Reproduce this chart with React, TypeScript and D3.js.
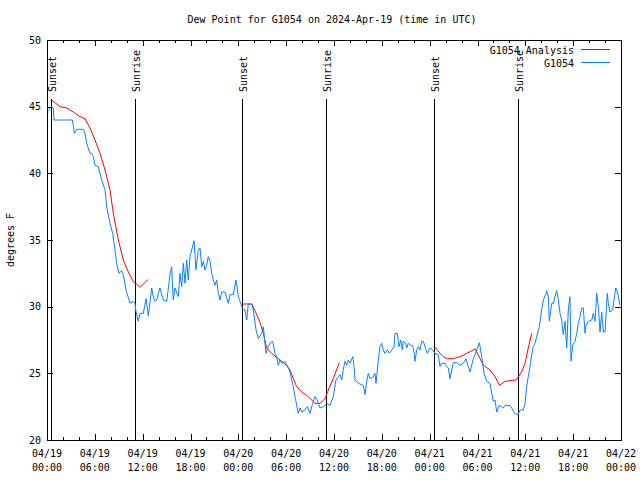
import React from "react";
import * as d3 from "d3";

// ---- Data (hours after 2024-04-19 00:00 UTC, dew point in °F) ----
const obsHours = [
  0.16, 0.59, 0.79, 0.88, 3.17, 3.3, 3.42, 3.73, 4.55, 4.77, 4.98, 5.39, 5.61, 5.81, 6.02, 6.43, 6.86, 7.28, 7.49, 7.9,
  8.24, 8.53, 8.74, 9.03, 9.37, 9.57, 9.91, 10.41, 10.83, 11.04, 11.13, 11.45, 11.67, 12.08, 12.42, 12.63, 12.71, 13.13, 13.33, 13.55,
  13.76, 14.17, 14.59, 15.02, 15.43, 15.64, 15.84, 16.06, 16.47, 16.68, 16.9, 17.1, 17.31, 17.52, 17.72, 17.94, 18.15, 18.44, 18.69, 18.98,
  19.19, 19.41, 19.61, 19.82, 20.03, 20.23, 20.45, 20.66, 20.86, 21.07, 21.29, 21.49, 21.7, 21.91, 22.33, 22.74, 22.96, 23.37, 23.71, 24.0,
  24.21, 24.5, 24.84, 25.05, 25.25, 25.68, 25.88, 26.22, 26.51, 26.93, 27.13, 27.47, 27.76, 27.97, 28.31, 28.6, 28.81, 29.01, 29.23, 29.44,
  29.85, 30.27, 30.48, 30.7, 30.9, 31.11, 31.32, 31.52, 31.74, 31.95, 32.36, 32.65, 32.99, 33.2, 33.62, 33.91, 34.24, 34.66, 35.09, 35.5,
  35.91, 36.25, 36.54, 36.75, 36.97, 37.17, 37.38, 37.59, 37.8, 38.01, 38.35, 38.51, 38.64, 39.05, 39.68, 39.89, 40.1, 40.3, 40.52, 40.93,
  41.14, 41.27, 41.56, 41.77, 41.98, 42.19, 42.4, 42.69, 42.94, 43.24, 43.53, 43.65, 43.94, 44.15, 44.37, 44.57, 44.69, 44.99, 45.12, 45.32,
  45.62, 45.87, 46.04, 46.16, 46.37, 46.57, 46.79, 47.0, 47.2, 47.42, 47.7, 48.04, 48.38, 48.67, 49.08, 49.3, 49.51, 49.92, 50.14, 50.34,
  50.55, 50.76, 50.97, 51.39, 51.81, 52.22, 52.56, 52.85, 53.06, 53.48, 53.9, 54.23, 54.53, 54.82, 55.16, 55.57, 55.78, 55.98, 56.2, 56.41,
  56.73, 57.03, 57.24, 57.45, 58.08, 58.29, 58.7, 59.12, 59.33, 59.74, 59.96, 60.17, 60.37, 60.59, 60.8, 61.0, 61.21, 61.43, 61.75, 62.05,
  62.26, 62.59, 62.68, 62.88, 63.01, 63.31, 63.51, 63.72, 63.93, 64.14, 64.35, 64.56, 64.76, 64.98, 65.19, 65.39, 65.6, 65.73, 65.94, 66.23,
  66.44, 66.65, 66.86, 67.07, 67.27, 67.49, 67.61, 67.9, 68.33, 68.53, 68.74, 68.95, 69.16, 69.37, 69.58, 69.78, 69.99, 70.28, 70.41, 70.62,
  70.96, 71.12, 71.34, 71.54, 71.75, 71.87,
];
const obsDew = [
  44.7, 45.0, 44.9, 44.0, 44.0, 43.6, 43.0, 43.3, 43.3, 43.0, 42.25, 41.5, 41.5, 41.25, 40.6, 40.5, 39.5, 38.75, 37.5, 36.25,
  35.5, 34.25, 33.25, 32.5, 32.7, 32.4, 31.25, 30.25, 30.4, 30.25, 29.75, 28.9, 29.5, 29.5, 30.6, 29.75, 29.3, 31.4, 30.75, 30.4,
  30.5, 31.4, 30.5, 30.4, 32.4, 33.0, 30.5, 31.4, 30.75, 32.5, 31.5, 33.25, 31.75, 33.5, 32.0, 33.75, 34.25, 34.95, 32.75, 34.25,
  34.4, 33.0, 33.4, 32.75, 33.1, 33.75, 33.4, 32.5, 32.0, 31.6, 32.0, 31.0, 30.5, 31.1, 31.1, 30.25, 30.9, 30.9, 32.0, 30.75,
  30.4, 29.9, 29.75, 29.0, 30.2, 30.2, 29.75, 28.25, 27.6, 28.0, 28.5, 26.5, 27.0, 27.25, 27.4, 26.5, 26.25, 25.6, 26.0, 25.75,
  25.9, 25.4, 25.1, 24.5, 24.0, 23.25, 22.6, 22.0, 22.4, 22.1, 22.25, 22.5, 22.0, 22.5, 23.25, 23.0, 22.4, 22.5, 22.75, 22.6,
  23.25, 24.5, 24.75, 24.9, 24.5, 25.3, 25.9, 25.6, 26.0, 25.75, 26.25, 25.5, 24.5, 24.25, 24.1, 23.4, 24.4, 25.0, 24.6, 24.75,
  25.0, 24.25, 26.0, 27.0, 27.25, 26.75, 26.5, 26.75, 26.5, 26.75, 27.0, 28.0, 28.0, 27.0, 27.5, 26.75, 27.4, 27.25, 26.9, 27.25,
  27.1, 27.1, 26.6, 25.9, 26.75, 27.0, 26.75, 27.4, 27.4, 27.0, 26.5, 26.9, 26.75, 26.5, 26.4, 25.5, 25.75, 25.75, 25.5, 25.4,
  24.6, 25.25, 25.8, 25.8, 25.6, 25.75, 26.1, 25.5, 25.1, 26.1, 26.75, 27.3, 26.25, 25.0, 24.4, 24.25, 23.5, 22.9, 23.0, 22.1,
  22.6, 22.5, 22.4, 22.6, 22.6, 22.4, 21.95, 21.95, 22.25, 22.25, 22.75, 24.0, 24.75, 25.5, 26.4, 27.0, 27.25, 27.75, 28.5, 29.75,
  30.5, 30.95, 31.2, 30.75, 28.9, 30.25, 30.25, 30.75, 31.2, 30.5, 29.5, 29.0, 27.9, 28.9, 26.9, 29.75, 30.75, 25.9, 27.1, 27.4,
  28.0, 28.75, 29.25, 29.9, 29.9, 28.0, 28.6, 28.9, 29.0, 29.5, 28.9, 31.0, 30.0, 28.1, 29.6, 28.1, 28.1, 31.0, 30.25, 29.6,
  29.75, 30.5, 31.4, 31.1, 30.5, 30.1,
];

// Analysis: three segments, separated by nulls
const analysisHours = [
  0.59, 1.63, 2.47, 3.3, 4.14, 4.77, 5.39, 6.02, 6.65, 7.28, 7.9, 8.32, 8.95, 9.57, 10.2, 10.83, 11.25, 11.67, 12.71, null,
  24.55, 25.68, 26.09, 26.72, 27.13, 27.55, 28.18, 29.23, 30.06, 30.48, 30.9, 31.32, 31.95, 32.78, 33.62, 34.24, 34.87, 35.29, 35.91, 36.66, null,
  48.62, 49.3, 49.71, 50.14, 50.97, 51.81, 52.64, 53.48, 53.69, 54.32, 54.74, 55.57, 56.2, 56.77, 57.45, 58.08, 58.83, 59.12, 59.54, 59.96, 60.37, 60.8,
];
const analysisDew = [
  45.5, 45.0, 44.9, 44.6, 44.25, 44.1, 43.4, 42.5, 41.5, 40.25, 38.75, 37.0, 35.0, 33.5, 32.6, 31.9, 31.7, 31.45, 32.05, null,
  30.2, 30.2, 29.7, 28.8, 28.0, 26.9, 26.5, 26.0, 25.6, 25.25, 24.6, 24.0, 23.6, 23.25, 22.75, 22.75, 23.1, 23.75, 24.6, 25.8, null,
  27.0, 26.5, 26.25, 26.1, 26.1, 26.25, 26.5, 26.75, 26.85, 26.1, 25.6, 25.25, 24.75, 24.1, 24.4, 24.45, 24.5, 24.75, 25.1, 25.75, 26.9, 28.0,
];

const sunEventHours = [0.58, 11.12, 24.55, 35.12, 48.55, 59.12];
const sunEventLabels = ["Sunset", "Sunrise", "Sunset", "Sunrise", "Sunset", "Sunrise"];

const yTicks = [20, 25, 30, 35, 40, 45, 50];
const seriesNames = ["G1054 Analysis", "G1054"];
const seriesColors = ["#ff0000", "#0a80ff"];
const titleText = "Dew Point for G1054 on 2024-Apr-19 (time in UTC)";
const yLabel = "degrees F";

const START = Date.UTC(2024, 3, 19, 0, 0);
const END = Date.UTC(2024, 3, 22, 0, 0);
const toDate = (h: number) => new Date(START + h * 3600e3);

export default function App() {
  const W = 640, H = 480;
  const L = 47, R = 621, T = 40, B = 440;
  const font = "'DejaVu Sans Mono', monospace";

  const x = d3.scaleUtc().domain([new Date(START), new Date(END)]).range([L, R]);
  const y = d3.scaleLinear().domain([20, 50]).range([B, T]);

  const majorTicks = x.ticks(d3.utcHour.every(6)!);
  const minorTicks = x.ticks(d3.utcHour.every(2)!).filter((t) => t.getUTCHours() % 6 !== 0);
  const fmtDate = d3.utcFormat("%m/%d");
  const fmtTime = d3.utcFormat("%H:%M");

  type P = { t: Date; v: number | null };
  const obs: P[] = obsHours.map((h, i) => ({ t: toDate(h), v: obsDew[i] }));
  const ana: P[] = analysisHours.map((h, i) => ({ t: toDate(h ?? 0), v: h == null ? null : analysisDew[i] }));

  const line = d3
    .line<P>()
    .defined((d) => d.v != null)
    .x((d) => x(d.t))
    .y((d) => y(d.v as number));

  return (
    <svg width={W} height={H} style={{ position: "absolute", left: 0, top: 0, background: "#fff" }} fontFamily={font} fontSize={10}>
      <rect x={0} y={0} width={W} height={H} fill="#fff" />
      {/* title */}
      <text x={332} y={23} textAnchor="middle" fill="#000">{titleText}</text>
      {/* y label */}
      <text transform={`translate(14,${(T + B) / 2}) rotate(-90)`} textAnchor="middle" fill="#000">{yLabel}</text>

      <g shapeRendering="crispEdges" stroke="#000" strokeWidth={1}>
        {yTicks.map((v) => (
          <g key={v}>
            <line x1={L} x2={L + 6} y1={Math.round(y(v)) + 0.5} y2={Math.round(y(v)) + 0.5} />
            <line x1={R - 6} x2={R} y1={Math.round(y(v)) + 0.5} y2={Math.round(y(v)) + 0.5} />
          </g>
        ))}
        {majorTicks.map((t, i) => (
          <g key={i}>
            <line x1={Math.round(x(t)) + 0.5} x2={Math.round(x(t)) + 0.5} y1={B} y2={B - 6} />
            <line x1={Math.round(x(t)) + 0.5} x2={Math.round(x(t)) + 0.5} y1={T} y2={T + 6} />
          </g>
        ))}
        {minorTicks.map((t, i) => (
          <g key={i}>
            <line x1={Math.round(x(t)) + 0.5} x2={Math.round(x(t)) + 0.5} y1={B} y2={B - 3} />
            <line x1={Math.round(x(t)) + 0.5} x2={Math.round(x(t)) + 0.5} y1={T} y2={T + 3} />
          </g>
        ))}
      </g>

      {yTicks.map((v) => (
        <text key={v} x={L - 6} y={y(v) + 3.5} textAnchor="end" fill="#000">{v}</text>
      ))}
      {majorTicks.map((t, i) => (
        <g key={i}>
          <text x={x(t)} y={457} textAnchor="middle" fill="#000">{fmtDate(t)}</text>
          <text x={x(t)} y={471} textAnchor="middle" fill="#000">{fmtTime(t)}</text>
        </g>
      ))}

      {/* sunrise / sunset markers */}
      {sunEventHours.map((h, i) => {
        const px = Math.floor(x(toDate(h))) + 0.5;
        return (
          <g key={i}>
            <line x1={px} x2={px} y1={T + 59} y2={B} stroke="#000" strokeWidth={1} shapeRendering="crispEdges" />
            <text transform={`translate(${px + 4.5},${T + 52}) rotate(-90)`} fill="#000">{sunEventLabels[i]}</text>
          </g>
        );
      })}

      {/* data */}
      <path d={line(ana) ?? ""} fill="none" stroke={seriesColors[0]} strokeWidth={1} />
      <path d={line(obs) ?? ""} fill="none" stroke={seriesColors[1]} strokeWidth={1} />

      {/* legend */}
      {seriesNames.map((n, i) => (
        <g key={n}>
          <text x={574} y={53.5 + i * 13} textAnchor="end" fill="#000">{n}</text>
          <line x1={581} x2={610} y1={49.5 + i * 13} y2={49.5 + i * 13} stroke={seriesColors[i]} strokeWidth={1} shapeRendering="crispEdges" />
        </g>
      ))}

      {/* frame */}
      <rect x={L + 0.5} y={T + 0.5} width={R - L} height={B - T} fill="none" stroke="#000" strokeWidth={1} shapeRendering="crispEdges" />
    </svg>
  );
}
